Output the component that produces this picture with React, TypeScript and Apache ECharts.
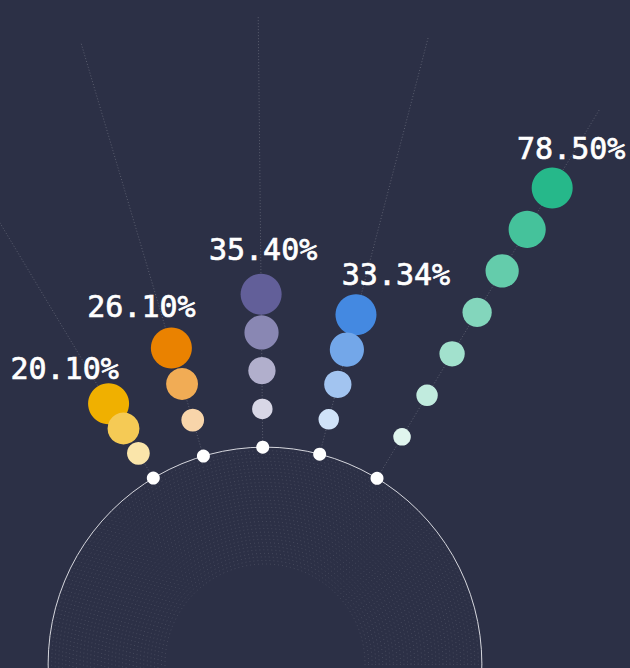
import { useEffect, useRef } from 'react';
import * as echarts from 'echarts';

// ---- data ----
const categories = ['Group A', 'Group B', 'Group C', 'Group D', 'Group E'];
const values = [20.1, 26.1, 35.4, 33.34, 78.5];
const bubbleCounts = [3, 3, 4, 4, 7];
const baseColors = ['#f0b000', '#ea8200', '#625f99', '#4489e1', '#26b88a'];

// ---- layout / style constants ----
const BG = '#2c3046';
const CENTER = [265, 664];
const OUTER_PX = 648;
const ARC = 50.2; // radius value where the white ring sits
const MAX_R = 150;
const categoryAngles = [-31, -16.5, -0.6, 14.6, 31.1]; // degrees from vertical
const MAX_SIZE = 41;
const labelOffsets = [
  [-44, 5],
  [-30, -1],
  [2, -4],
  [40, 0],
  [19, 1],
];

function mixWhite(hex: string, t: number) {
  const n = parseInt(hex.slice(1), 16);
  const r = (n >> 16) & 255;
  const g = (n >> 8) & 255;
  const b = n & 255;
  const m = (c: number) => Math.round(c + (255 - c) * t);
  return `rgb(${m(r)},${m(g)},${m(b)})`;
}

const hiddenAxis = {
  axisLine: { show: false },
  axisTick: { show: false },
  axisLabel: { show: false },
  splitLine: { show: false },
};

export default function App() {
  const ref = useRef<HTMLDivElement>(null);
  useEffect(() => {
    if (!ref.current) return;
    const chart = echarts.init(ref.current, undefined, { renderer: 'svg' });
    const angles = categoryAngles;
    const ringPx = (OUTER_PX * ARC) / MAX_R;

    const lineSeries = categories.map((c, i) => ({
      type: 'line',
      name: c + ' guide',
      coordinateSystem: 'polar',
      polarIndex: 0,
      symbol: 'none',
      silent: true,
      z: 1,
      lineStyle: { color: 'rgba(255,255,255,0.22)', width: 1, type: [1, 2] },
      data: [
        [ARC, angles[i]],
        [MAX_R, angles[i]],
      ],
    }));

    const bubbleSeries = categories.map((c, i) => {
      const n = bubbleCounts[i];
      const pts: any[] = [];
      for (let k = n; k >= 1; k--) {
        const item: any = {
          value: [ARC + (values[i] * k) / n, angles[i]],
          symbolSize: (MAX_SIZE * (k + n / 2)) / (1.5 * n),
          itemStyle: { color: mixWhite(baseColors[i], (n - k) / n), opacity: 1 },
        };
        if (k === n) {
          item.label = {
            show: true,
            position: 'top',
            offset: labelOffsets[i],
            formatter: values[i].toFixed(2) + '%',
            color: '#ffffff',
            opacity: 1,
            fontSize: 30,
            fontWeight: 'normal',
            fontFamily: 'DejaVu Sans Mono',
            textBorderColor: '#ffffff',
            textBorderWidth: 0.7,
          };
        }
        pts.push(item);
      }
      return {
        type: 'scatter',
        name: c,
        coordinateSystem: 'polar',
        polarIndex: 0,
        z: 3,
        itemStyle: { opacity: 1 },
        data: pts,
      };
    });

    const dotSeries = {
      type: 'scatter',
      name: 'ring dots',
      coordinateSystem: 'polar',
      polarIndex: 0,
      z: 4,
      symbolSize: 13,
      itemStyle: { color: '#ffffff', opacity: 1 },
      data: angles.map((a) => [ARC, a]),
    };

    chart.setOption({
      animation: false,
      backgroundColor: BG,
      polar: [
        { center: CENTER, radius: OUTER_PX },
        { center: CENTER, radius: [100, ringPx] },
        { center: CENTER, radius: ringPx },
      ],
      angleAxis: [
        {
          polarIndex: 0,
          type: 'value',
          min: -180,
          max: 180,
          startAngle: 270,
          clockwise: true,
          ...hiddenAxis,
        },
        { polarIndex: 1, type: 'value', min: 0, max: 360, ...hiddenAxis },
        {
          polarIndex: 2,
          type: 'value',
          min: 0,
          max: 360,
          ...hiddenAxis,
          axisLine: { show: true, lineStyle: { color: '#d4d5dc', width: 1 } },
        },
      ],
      radiusAxis: [
        { polarIndex: 0, type: 'value', min: 0, max: MAX_R, ...hiddenAxis },
        {
          polarIndex: 1,
          type: 'value',
          min: 0,
          max: 33,
          interval: 1,
          ...hiddenAxis,
          splitLine: {
            show: true,
            lineStyle: { color: 'rgba(255,255,255,0.12)', width: 1, type: [1, 3] },
          },
        },
        { polarIndex: 2, type: 'value', min: 0, max: 1, ...hiddenAxis },
      ],
      series: [...lineSeries, ...bubbleSeries, dotSeries],
    });
    return () => chart.dispose();
  }, []);
  return (
    <div
      ref={ref}
      style={{ position: 'fixed', left: 0, top: 0, width: 630, height: 668, background: BG }}
    />
  );
}
